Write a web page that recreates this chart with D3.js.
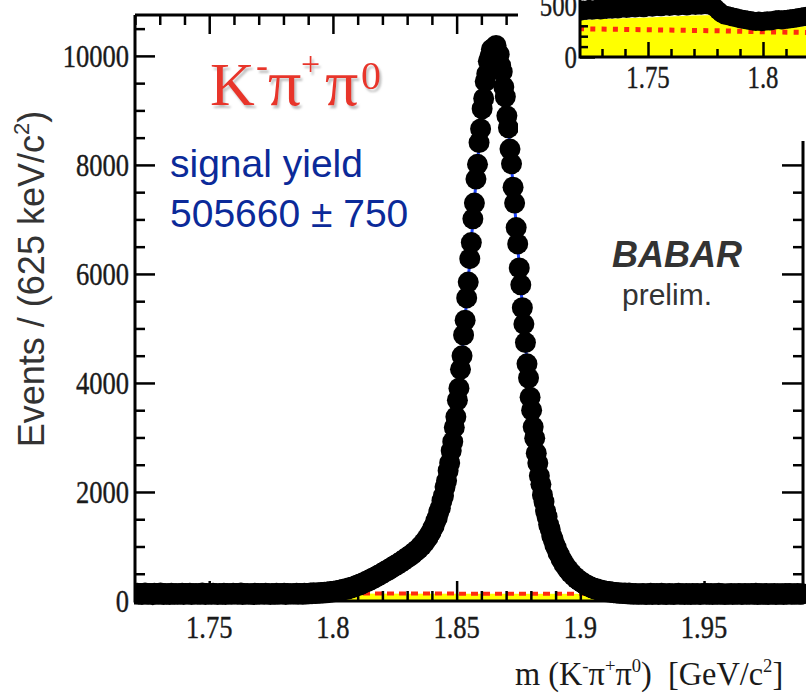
<!DOCTYPE html>
<html><head><meta charset="utf-8">
<script src="https://cdn.jsdelivr.net/npm/d3@7"></script>
<style>body{margin:0;background:#fff} svg{display:block}</style>
</head><body>
<svg id="c" width="806" height="695"></svg>
<script>
// ---------------- DATA ----------------
const massLow = 1.72, massHigh = 1.99, binWidth = 0.000625; // 625 keV bins
const counts = [
128,141,125,136,119,133,145,127,122,138,
131,116,140,129,135,124,147,130,121,137,
126,134,118,143,130,125,139,122,133,128,
144,120,136,131,127,142,117,134,129,138,
123,135,126,146,131,119,137,128,133,124,
140,127,132,121,139,130,125,143,118,136,
129,134,122,141,128,137,126,131,145,120,
133,127,139,124,135,130,118,142,129,136,
125,138,131,122,144,127,134,119,137,130,
126,141,123,135,132,128,140,121,136,129,
134,127,
135,127,140,124,138,131,126,142,129,137,
131,146,135,150,138,144,152,140,157,149,
161,150,167,158,172,165,181,174,190,186,
199,193,214,208,226,221,243,238,259,255,
276,287,285,311,309,334,336,361,360,388,
389,417,418,447,448,478,481,508,512,541,
556,560,592,597,627,631,661,664,695,700,
732,738,771,776,812,815,851,858,897,905,
941,955,1001,1012,1066,1081,1139,1162,1228,1261,
1336,1379,1470,1527,1638,1708,1841,1930,2090,2204,
2390,2531,2756,2921,3185,3378,3683,3905,4250,4498,
4880,5150,5560,5850,6280,6575,7010,7300,7740,8010,
8410,8660,9030,9220,9530,9670,9900,9990,10120,10110,
10150,10190,10060,10030,9820,9710,9430,9250,8900,8680,
8290,8020,7590,7300,6850,6550,6110,5800,5380,5080,
4740,4350,4090,3740,3500,3195,2985,2710,2530,2296,
2140,1945,1820,1650,1545,1402,1318,1196,1130,1027,
972,888,846,770,735,671,645,590,569,519,
502,460,447,409,398,364,357,327,320,294,
290,264,262,242,240,221,223,204,206,190,
192,177,181,168,172,159,163,153,158,147,
152,143,148,139,145,
141,132,145,128,137,124,139,130,126,135,
122,137,129,118,134,126,140,121,131,127,
136,119,130,142,125,133,120,128,138,124,
131,117,135,127,141,123,129,134,120,137,
126,132,118,139,128,124,136,130,121,133,
127,143,122,131,126,138,119,134,129,125,
140,123,132,128,117,135,126,130,139,121,
134,127,124,137,131,120,129,136,125,133,
122,138,128,126,141,119,132,127,135,123,
130,136,121,129,134,125,139,118,131,128,
127,133,120,138,125,131,136,122,129,134,
124,137,130,122,133
];
const fitMass = [1.72,1.78406,1.79656,1.80281,1.80906,1.81531,1.82156,1.82781,1.83406,1.83719,1.84031,1.84344,1.84656,1.84844,1.85031,1.85219,1.85406,1.85594,1.85781,1.85969,1.86156,1.86344,1.86531,1.86719,1.86906,1.87094,1.87281,1.87469,1.87656,1.87844,1.88031,1.88219,1.88406,1.88719,1.89031,1.89344,1.89656,1.89969,1.90281,1.90906,1.91531,1.92156,1.99];
const fitValue = [135,132,154,194,271,394,549,724,934,1088,1325,1719,2373,2940,3656,4525,5525,6607,7695,8694,9501,10027,10204,10011,9469,8644,7626,6516,5410,4382,3481,2730,2128,1414,964,680,495,371,285,188,149,135,125];
const bkgMass = [1.72, 1.99];
const bkgValue = [142, 128];
const xTickValues = [1.75, 1.8, 1.85, 1.9, 1.95];
const xTickLabels = ["1.75", "1.8", "1.85", "1.9", "1.95"];
const yTickValues = [0, 2000, 4000, 6000, 8000, 10000];
const yTickLabels = ["0", "2000", "4000", "6000", "8000", "10000"];

// inset (zoomed low-mass sideband)
const insetLow = 1.72, insetBin = 0.00125;
const insetCounts = [
440,452,446,458,449,455,462,451,460,457,
465,458,470,462,468,474,466,472,479,470,
476,483,474,481,487,479,485,490,482,488,
494,486,492,497,489,495,500,491,498,503,
495,502,497,505,503,499,490,470,445,420,
405,398,392,384,379,371,366,360,355,350,
346,342,345,340,343,348,346,352,357,361,
356,360,363,367,371,375,380,384,389,393
];
const insetFillMass = [1.72,1.73,1.74,1.75,1.76,1.77,1.781,1.783,1.79,1.80,1.81,1.82];
const insetFillValue = [355,365,372,380,390,400,405,320,290,265,280,300];
const insetBkgMass = [1.72,1.75,1.78,1.80,1.82];
const insetBkgValue = [272,262,252,242,236];
const insetXTickValues = [1.75, 1.8];
const insetXTickLabels = ["1.75", "1.8"];
const insetYTickValues = [0, 500];
const insetYTickLabels = ["0", "500"];

// ---------------- DRAW ----------------
const svg = d3.select("#c");
svg.append("rect").attr("width", 806).attr("height", 695).attr("fill", "#fff");
const defs = svg.append("defs");
const shadow = defs.append("filter").attr("id", "shadow").attr("x", "-10%").attr("y", "-10%").attr("width", "130%").attr("height", "130%");
shadow.append("feDropShadow").attr("dx", 2).attr("dy", 3).attr("stdDeviation", 0.8)
  .attr("flood-color", "#b0b0b0").attr("flood-opacity", 0.8);

const x = d3.scaleLinear().domain([massLow, massHigh]).range([135, 803]);
const y = d3.scaleLinear().domain([0, 10750]).range([601, 15]);
const SERIF = "'Liberation Serif','Times New Roman',serif";
const SANS = "'Liberation Sans',Arial,sans-serif";

defs.append("clipPath").attr("id", "mainclip")
  .append("rect").attr("x", 134).attr("y", 0).attr("width", 672).attr("height", 695);

const plot = svg.append("g").attr("clip-path", "url(#mainclip)");

// background component: yellow fill + red dotted
const bkgPts = bkgMass.map((m, i) => [m, bkgValue[i]]);
plot.append("path").datum(bkgPts)
  .attr("d", d3.area().x(d => x(d[0])).y0(y(0)).y1(d => y(d[1])))
  .attr("fill", "#ffff00");
plot.append("path").datum(bkgPts)
  .attr("d", d3.line().x(d => x(d[0])).y(d => y(d[1])))
  .attr("fill", "none").attr("stroke", "#ff2a10").attr("stroke-width", 4)
  .attr("stroke-dasharray", "7,5");

// axes ticks
function tickAxis(g, axisGen, transform, vals, size) {
  const a = g.append("g").attr("transform", transform)
    .call(axisGen.tickValues(vals).tickSize(size).tickSizeOuter(0).tickFormat(""));
  a.select(".domain").remove();
  a.selectAll("line").attr("stroke", "#000").attr("stroke-width", 2.5);
}
const yMinor = d3.range(500, 10750, 500).filter(v => v % 2000 !== 0);
const xMinor = d3.range(172, 200).map(v => v / 100).filter(v => Math.round(v * 100) % 5 !== 0);
const axes = svg.append("g");
tickAxis(axes, d3.axisRight(y), "translate(135,0)", yTickValues, 20);
tickAxis(axes, d3.axisRight(y), "translate(135,0)", yMinor, 10);
tickAxis(axes, d3.axisLeft(y), "translate(803,0)", yTickValues, 21);
tickAxis(axes, d3.axisLeft(y), "translate(803,0)", yMinor, 10);
tickAxis(axes, d3.axisTop(x), "translate(0,601)", xTickValues, 20);
tickAxis(axes, d3.axisTop(x), "translate(0,601)", xMinor, 10);
tickAxis(axes, d3.axisBottom(x), "translate(0,15)", xTickValues, 19);
tickAxis(axes, d3.axisBottom(x), "translate(0,15)", xMinor, 10);
// frame
axes.append("path").attr("d", "M135,15V601H803V15H135").attr("fill", "none")
  .attr("stroke", "#000").attr("stroke-width", 3);

// fit curve (blue)
const fitPts = fitMass.map((m, i) => [m, fitValue[i]]);
plot.append("path").datum(fitPts)
  .attr("d", d3.line().curve(d3.curveMonotoneX).x(d => x(d[0])).y(d => y(d[1])))
  .attr("fill", "none").attr("stroke", "#1e44ff").attr("stroke-width", 3);

// data points
plot.append("g").selectAll("circle").data(counts).join("circle")
  .attr("cx", (d, i) => x(massLow + (i + 0.5) * binWidth))
  .attr("cy", d => y(d))
  .attr("r", 10.5).attr("fill", "#000");

// squeezed serif label helper
function sqText(g, px, py, str, size, anchor, sx) {
  return g.append("text").attr("transform", `translate(${px},${py}) scale(${sx},1)`)
    .attr("text-anchor", anchor).attr("font-family", SERIF).attr("font-size", size)
    .attr("fill", "#1a1a1a").attr("stroke", "#1a1a1a").attr("stroke-width", 0.4).text(str);
}
xTickValues.forEach((v, i) => sqText(svg, x(v), 638, xTickLabels[i], 32, "middle", 0.83));
yTickValues.forEach((v, i) => sqText(svg, 129, y(v) + 10.8, yTickLabels[i], 32, "end", 0.83));

// x title
const xt = svg.append("text").attr("transform", "translate(515,685) scale(0.98,1)")
  .attr("font-family", SERIF).attr("font-size", 33).attr("fill", "#1a1a1a")
  .style("white-space", "pre");
xt.append("tspan").text("m (K");
xt.append("tspan").attr("font-size", 19).attr("dy", -13).text("-");
xt.append("tspan").attr("dy", 13).text("π");
xt.append("tspan").attr("font-size", 19).attr("dy", -13).text("+");
xt.append("tspan").attr("dy", 13).text("π");
xt.append("tspan").attr("font-size", 19).attr("dy", -13).text("0");
xt.append("tspan").attr("dy", 13).text(")  [GeV/c");
xt.append("tspan").attr("font-size", 19).attr("dy", -13).text("2");
xt.append("tspan").attr("dy", 13).text("]");

// y title
const yt = svg.append("text").attr("transform", "translate(44,279) rotate(-90)")
  .attr("text-anchor", "middle").attr("font-family", SANS).attr("font-size", 36).attr("fill", "#333");
yt.append("tspan").text("Events / (625 keV/c");
yt.append("tspan").attr("font-size", 22).attr("dy", -15).text("2");
yt.append("tspan").attr("dy", 15).text(")");

// decay mode title
const mt = svg.append("text").attr("y", 105)
  .attr("font-family", SERIF).attr("font-size", 62).attr("fill", "#e8352b")
  .attr("filter", "url(#shadow)");
mt.append("tspan").attr("x", 210).text("K");
mt.append("tspan").attr("x", 256).attr("font-size", 36).attr("dy", -28).text("-");
mt.append("tspan").attr("x", 268).attr("font-size", 66).attr("dy", 28).text("π");
mt.append("tspan").attr("x", 301).attr("font-size", 34).attr("dy", -30).text("+");
mt.append("tspan").attr("x", 325).attr("font-size", 66).attr("dy", 30).text("π");
mt.append("tspan").attr("x", 361).attr("font-size", 40).attr("dy", -16).text("0");

svg.append("text").attr("x", 170).attr("y", 177).attr("font-family", SANS)
  .attr("font-size", 39).attr("fill", "#0b2a99").text("signal yield");
svg.append("text").attr("x", 170).attr("y", 227).attr("font-family", SANS)
  .attr("font-size", 39).attr("fill", "#0b2a99").text("505660 ± 750");
svg.append("text").attr("x", 612).attr("y", 267).attr("font-family", SANS)
  .attr("font-size", 36).attr("font-weight", "bold").attr("font-style", "italic")
  .attr("fill", "#333").text("BABAR");
svg.append("text").attr("x", 622).attr("y", 305).attr("font-family", SANS)
  .attr("font-size", 30).attr("fill", "#333").text("prelim.");

// ---------------- INSET ----------------
const inset = svg.append("g");
inset.append("rect").attr("x", 518).attr("y", 0).attr("width", 288).attr("height", 141).attr("fill", "#fff");
const ix = d3.scaleLinear().domain([1.72, 1.82]).range([579, 809]);
const iy = d3.scaleLinear().domain([0, 500]).range([57, 5]);
defs.append("clipPath").attr("id", "insetclip")
  .append("rect").attr("x", 580).attr("y", 0).attr("width", 226).attr("height", 57);
const ip = inset.append("g").attr("clip-path", "url(#insetclip)");
const fillPts = insetFillMass.map((m, i) => [m, insetFillValue[i]]);
ip.append("path").datum(fillPts)
  .attr("d", d3.area().x(d => ix(d[0])).y0(iy(0)).y1(d => iy(d[1])))
  .attr("fill", "#ffff00");
const ibPts = insetBkgMass.map((m, i) => [m, insetBkgValue[i]]);
ip.append("path").datum(ibPts)
  .attr("d", d3.line().x(d => ix(d[0])).y(d => iy(d[1])))
  .attr("fill", "none").attr("stroke", "#ff2a10").attr("stroke-width", 5)
  .attr("stroke-dasharray", "5,6.3");
const iaxes = inset.append("g");
tickAxis(iaxes, d3.axisTop(ix), "translate(0,57)", insetXTickValues, 15);
tickAxis(iaxes, d3.axisTop(ix), "translate(0,57)", d3.range(173, 183).map(v => v / 100).filter(v => Math.round(v * 100) % 5 !== 0), 8);
tickAxis(iaxes, d3.axisRight(iy), "translate(580,0)", insetYTickValues, 15);
tickAxis(iaxes, d3.axisRight(iy), "translate(580,0)", [100, 200, 300, 400], 8);
ip.append("g").selectAll("circle").data(insetCounts).join("circle")
  .attr("cx", (d, i) => ix(insetLow + (i + 0.5) * insetBin))
  .attr("cy", d => iy(d)).attr("r", 9.5).attr("fill", "#000");
iaxes.append("path").attr("d", "M580,0V57H806").attr("fill", "none")
  .attr("stroke", "#000").attr("stroke-width", 3);
insetXTickValues.forEach((v, i) => sqText(inset, ix(v), 88, insetXTickLabels[i], 31, "middle", 0.8));
insetYTickValues.forEach((v, i) => sqText(inset, 577, iy(v) + 10.5, insetYTickLabels[i], 31, "end", 0.8));
</script>
</body></html>
